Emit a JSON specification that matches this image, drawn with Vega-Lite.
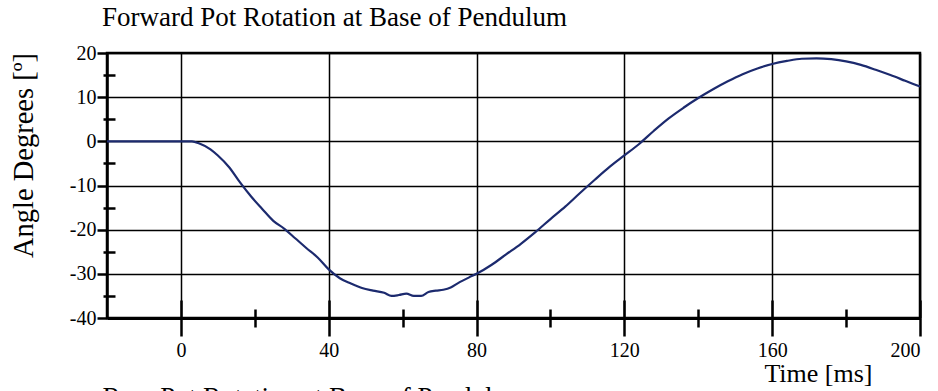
{
  "$schema": "https://vega.github.io/schema/vega-lite/v6.json",
  "width": 813,
  "height": 265,
  "autosize": "none",
  "padding": {"left": 107, "top": 53, "right": 18, "bottom": 73},
  "background": "white",
  "title": {
    "text": "Forward Pot Rotation at Base of Pendulum",
    "anchor": "start",
    "frame": "group",
    "font": "Liberation Serif",
    "fontSize": 27,
    "fontWeight": "normal",
    "color": "black",
    "baseline": "alphabetic",
    "offset": 18,
    "dx": -5,
    "dy": 28
  },
  "data": {
    "values": [
      {"t": -20, "v": 0}, {"t": -10, "v": 0}, {"t": 0, "v": 0}, {"t": 3, "v": 0},
      {"t": 5, "v": -0.5}, {"t": 8, "v": -1.8}, {"t": 10, "v": -3.2}, {"t": 13, "v": -5.8},
      {"t": 16, "v": -9.3}, {"t": 19, "v": -12.5}, {"t": 22, "v": -15.3}, {"t": 25, "v": -18},
      {"t": 28, "v": -19.8}, {"t": 31, "v": -22}, {"t": 34, "v": -24.2}, {"t": 37, "v": -26.3},
      {"t": 40, "v": -29}, {"t": 43, "v": -31}, {"t": 46, "v": -32.2}, {"t": 49, "v": -33.2},
      {"t": 52, "v": -33.8}, {"t": 55, "v": -34.3}, {"t": 57, "v": -35}, {"t": 59, "v": -34.8},
      {"t": 61, "v": -34.5}, {"t": 63, "v": -35}, {"t": 65, "v": -35}, {"t": 67, "v": -34.1},
      {"t": 69, "v": -33.8}, {"t": 71, "v": -33.6}, {"t": 73, "v": -33.1}, {"t": 75, "v": -32.1},
      {"t": 78, "v": -30.8}, {"t": 80, "v": -30}, {"t": 84, "v": -28}, {"t": 88, "v": -25.6},
      {"t": 92, "v": -23.2}, {"t": 96, "v": -20.5}, {"t": 100, "v": -17.6}, {"t": 104, "v": -14.8},
      {"t": 108, "v": -11.7}, {"t": 112, "v": -8.7}, {"t": 116, "v": -5.8}, {"t": 120, "v": -3.2},
      {"t": 124, "v": -0.6}, {"t": 128, "v": 2.4}, {"t": 132, "v": 5.2}, {"t": 136, "v": 7.6},
      {"t": 140, "v": 9.8}, {"t": 144, "v": 11.8}, {"t": 148, "v": 13.6}, {"t": 152, "v": 15.2},
      {"t": 156, "v": 16.5}, {"t": 160, "v": 17.5}, {"t": 164, "v": 18.2}, {"t": 168, "v": 18.7},
      {"t": 172, "v": 18.8}, {"t": 176, "v": 18.6}, {"t": 180, "v": 18.1}, {"t": 184, "v": 17.3},
      {"t": 188, "v": 16.2}, {"t": 192, "v": 15}, {"t": 196, "v": 13.7}, {"t": 200, "v": 12.4}
    ]
  },
  "layer": [
    {
      "mark": {"type": "line", "color": "#1c2a6e", "strokeWidth": 2.2, "interpolate": "monotone"},
      "encoding": {
        "x": {
          "field": "t", "type": "quantitative",
          "scale": {"domain": [-20, 200], "nice": false, "zero": false},
          "axis": {
            "values": [0, 40, 80, 120, 160, 200],
            "tickSize": 18, "tickWidth": 2.5, "domainWidth": 3,
            "labelFontSize": 20, "labelPadding": 4,
            "grid": true, "gridWidth": 1.5,
            "title": "Time [ms]", "titleFontSize": 26,
            "titleX": 765, "titleY": 63, "titleAlign": "right", "titleBaseline": "alphabetic"
          }
        },
        "y": {
          "field": "v", "type": "quantitative",
          "scale": {"domain": [-40, 20], "nice": false, "zero": false},
          "axis": {
            "values": [-40, -30, -20, -10, 0, 10, 20],
            "labelExpr": "datum.value < 0 ? '-' + abs(datum.value) : '' + datum.value",
            "tickSize": 10, "tickWidth": 2.5, "domainWidth": 2.5,
            "labelFontSize": 20, "labelPadding": 1,
            "grid": true, "gridWidth": 1.5,
            "title": "Angle Degrees [º]", "titleFontSize": 28.5,
            "titleX": -75, "titleY": 102, "titleAngle": 270,
            "titleAlign": "center", "titleBaseline": "alphabetic"
          }
        }
      }
    },
    {
      "mark": {"type": "point", "opacity": 0},
      "encoding": {
        "x": {
          "field": "t", "type": "quantitative",
          "axis": {
            "orient": "bottom", "values": [20, 60, 100, 140, 180],
            "offset": -9, "tickSize": 18, "tickWidth": 2.5,
            "domain": false, "labels": false, "grid": false, "title": null
          }
        },
        "y": {
          "field": "v", "type": "quantitative",
          "axis": {
            "orient": "left", "values": [-35, -25, -15, -5, 5, 15],
            "offset": -8, "tickSize": 12, "tickWidth": 2.5,
            "domain": false, "labels": false, "grid": false, "title": null
          }
        }
      }
    },
    {
      "mark": {"type": "point", "opacity": 0},
      "encoding": {
        "x": {
          "field": "t", "type": "quantitative",
          "axis": {
            "orient": "bottom", "values": [0, 40, 80, 120, 160, 200],
            "offset": -18, "tickSize": 18, "tickWidth": 2.5,
            "domain": false, "labels": false, "grid": false,
            "title": "Rear Pot Rotation at Base of Pendulum", "titleFontSize": 27,
            "titleX": -5, "titleY": 105, "titleAlign": "left", "titleBaseline": "alphabetic"
          }
        },
        "y": {"field": "v", "type": "quantitative", "axis": null}
      }
    }
  ],
  "resolve": {
    "scale": {"x": "shared", "y": "shared"},
    "axis": {"x": "independent", "y": "independent"}
  },
  "config": {
    "view": {"stroke": "black", "strokeWidth": 2.5},
    "axis": {
      "domainColor": "black", "tickColor": "black", "gridColor": "black", "gridOpacity": 1,
      "labelColor": "black", "titleColor": "black",
      "labelFont": "Liberation Serif", "titleFont": "Liberation Serif", "titleFontWeight": "normal"
    }
  }
}
